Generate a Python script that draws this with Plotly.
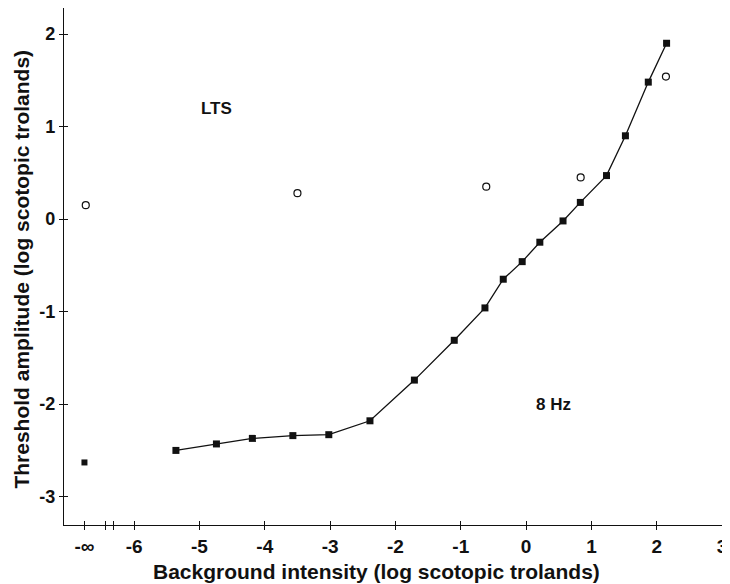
import plotly.graph_objects as go

# ---- data (log scotopic trolands) ----
NEG_INF_POS = -6.76          # axis position used for the "-∞" background
BREAK_POS = [-6.44, -6.32]   # axis-break marks

hz8_x = [-5.36, -4.74, -4.19, -3.57, -3.02, -2.39, -1.71, -1.10, -0.63, -0.35,
         -0.06, 0.21, 0.565, 0.83, 1.23, 1.52, 1.87, 2.15]
hz8_y = [-2.50, -2.43, -2.37, -2.34, -2.33, -2.18, -1.74, -1.31, -0.96, -0.65,
         -0.46, -0.25, -0.02, 0.18, 0.47, 0.90, 1.48, 1.90]
hz8_inf_y = -2.63

lts_x = [-3.50, -0.61, 0.835, 2.14]
lts_y = [0.28, 0.35, 0.45, 1.54]
lts_inf_y = 0.15

x_tickvals = [NEG_INF_POS, -6, -5, -4, -3, -2, -1, 0, 1, 2, 3]
x_ticktext = ["-\u221e", "-6", "-5", "-4", "-3", "-2", "-1", "0", "1", "2", "3"]
y_tickvals = [-3, -2, -1, 0, 1, 2]
y_ticktext = ["-3", "-2", "-1", "0", "1", "2"]

XR = [-7.073, 3.09]
YR = [-3.306, 2.281]

FONT = "Liberation Sans"
BLACK = "#111111"

fig = go.Figure()

fig.add_trace(go.Scatter(
    x=hz8_x, y=hz8_y, mode="lines+markers",
    line=dict(color=BLACK, width=1.3),
    marker=dict(symbol="square", size=7, color=BLACK),
    showlegend=False, cliponaxis=False))
fig.add_trace(go.Scatter(
    x=[NEG_INF_POS], y=[hz8_inf_y], mode="markers",
    marker=dict(symbol="square", size=6, color=BLACK),
    showlegend=False))
fig.add_trace(go.Scatter(
    x=[NEG_INF_POS + 0.02] + lts_x, y=[lts_inf_y] + lts_y, mode="markers",
    marker=dict(symbol="circle-open", size=7, color=BLACK, line=dict(width=1.2)),
    showlegend=False))
# dummy trace so the overlay axes (inner half of the cross ticks) get drawn
fig.add_trace(go.Scatter(x=[None], y=[None], xaxis="x2", yaxis="y2",
                         showlegend=False, hoverinfo="skip"))

xtickfont = dict(family=FONT, size=19, color=BLACK)
ytickfont = dict(family=FONT, size=18, color=BLACK)
titlefont = dict(family=FONT, size=21, color=BLACK)

# the page body adds an 8px offset, so the figure is laid out 8px smaller
fig.update_layout(
    width=722, height=576,
    margin=dict(l=56, r=2, t=0, b=59, autoexpand=False),
    paper_bgcolor="white", plot_bgcolor="white",
    xaxis=dict(
        range=XR, showgrid=False, zeroline=False, automargin=False,
        showline=True, linecolor=BLACK, linewidth=1.3,
        tickmode="array",
        tickvals=x_tickvals + BREAK_POS,
        ticktext=["<b>%s</b>" % t for t in x_ticktext] + ["", ""],
        ticks="outside", ticklen=4, tickwidth=1.2, tickcolor=BLACK,
        tickfont=xtickfont, ticklabeloverflow="allow",
    ),
    yaxis=dict(
        range=YR, showgrid=False, zeroline=False, automargin=False,
        showline=True, linecolor=BLACK, linewidth=1.3,
        tickmode="array", tickvals=y_tickvals,
        ticktext=["<b>%s</b>" % t for t in y_ticktext],
        ticks="outside", ticklen=4, tickwidth=1.2, tickcolor=BLACK,
        tickfont=ytickfont, ticklabeloverflow="allow",
    ),
    xaxis2=dict(
        range=XR, overlaying="x", anchor="y", side="bottom", automargin=False,
        showgrid=False, zeroline=False, showline=False,
        tickmode="array", tickvals=x_tickvals + BREAK_POS,
        ticks="inside", ticklen=4, tickwidth=1.2, tickcolor=BLACK,
        showticklabels=False,
    ),
    yaxis2=dict(
        range=YR, overlaying="y", anchor="x", side="left", automargin=False,
        showgrid=False, zeroline=False, showline=False,
        tickmode="array", tickvals=y_tickvals,
        ticks="inside", ticklen=4, tickwidth=1.2, tickcolor=BLACK,
        showticklabels=False,
    ),
    annotations=[
        dict(x=-4.74, y=1.20, xref="x", yref="y", text="<b>LTS</b>",
             showarrow=False, font=dict(family=FONT, size=17, color=BLACK)),
        dict(x=0.42, y=-2.0, xref="x", yref="y", text="<b>8 Hz</b>",
             showarrow=False, font=dict(family=FONT, size=17, color=BLACK)),
        dict(x=0.470, y=-0.089, xref="paper", yref="paper",
             xanchor="center", yanchor="middle", showarrow=False,
             text="<b>Background intensity (log scotopic trolands)</b>",
             font=titlefont),
        dict(x=-0.064, y=0.495, xref="paper", yref="paper",
             xanchor="center", yanchor="middle", showarrow=False, textangle=-90,
             text="<b>Threshold amplitude (log scotopic trolands)</b>",
             font=titlefont),
    ],
)

fig.write_html("out.html")
